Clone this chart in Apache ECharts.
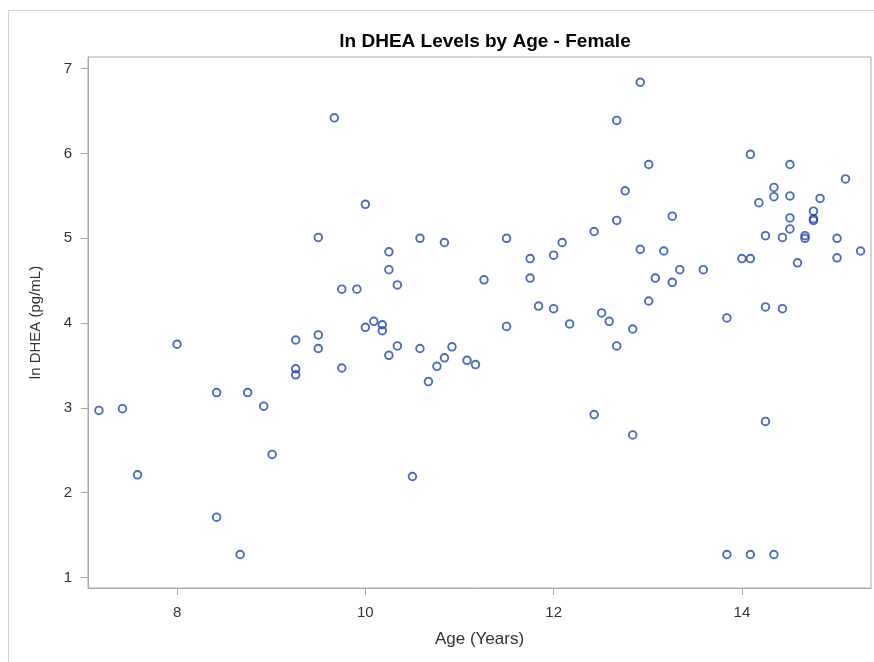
<!DOCTYPE html>
<html>
<head>
<meta charset="utf-8">
<script src="https://cdn.jsdelivr.net/npm/echarts@6/dist/echarts.min.js"></script>
<style>
html,body{margin:0;padding:0;background:#fff;}
#chart{width:874px;height:662px;}
</style>
</head>
<body>
<div id="chart"></div>
<script>
const titleText = "ln DHEA Levels by Age - Female";
const xAxisTitle = "Age (Years)";
const yAxisTitle = "ln DHEA (pg/mL)";
const xTicks = [8, 10, 12, 14];
const yTicks = [1, 2, 3, 4, 5, 6, 7];

const ages = [
  7.17, 7.42, 7.58, 8.00, 8.42, 8.42, 8.67, 8.75, 8.92, 9.01,
  9.26, 9.26, 9.26, 9.50, 9.50, 9.75, 10.00, 10.09, 10.18, 10.18,
  10.25, 10.34, 10.58, 10.50, 10.67, 10.76, 10.84, 10.92, 11.08, 11.17,
  11.50, 11.84, 12.00, 12.17, 12.43, 12.51, 12.59, 12.67, 12.84, 12.84,
  12.92, 12.67, 13.01, 12.76, 12.67, 12.43, 12.09, 12.00, 11.75, 11.75,
  11.50, 11.26, 10.84, 10.58, 10.25, 10.25, 10.34, 12.92, 13.17, 13.08,
  13.01, 9.67, 10.00, 9.50, 9.75, 9.91, 14.09, 14.51, 15.10, 14.34,
  14.34, 14.51, 14.18, 14.83, 14.76, 14.76, 14.76, 14.51, 14.51, 13.26,
  14.25, 14.43, 14.67, 14.67, 15.01, 15.01, 15.26, 14.59, 14.00, 14.09,
  13.34, 13.59, 13.26, 14.25, 14.43, 13.84, 14.25, 13.84, 14.09, 14.34
];
const lnDhea = [
  2.97, 2.99, 2.21, 3.75, 3.18, 1.71, 1.27, 3.18, 3.02, 2.45,
  3.80, 3.46, 3.39, 3.86, 3.70, 3.47, 3.95, 4.02, 3.98, 3.91,
  3.62, 3.73, 3.70, 2.19, 3.31, 3.49, 3.59, 3.72, 3.56, 3.51,
  3.96, 4.20, 4.17, 3.99, 2.92, 4.12, 4.02, 3.73, 3.93, 2.68,
  6.84, 6.39, 5.87, 5.56, 5.21, 5.08, 4.95, 4.80, 4.76, 4.53,
  5.00, 4.51, 4.95, 5.00, 4.84, 4.63, 4.45, 4.87, 4.85, 4.53,
  4.26, 6.42, 5.40, 5.01, 4.40, 4.40, 5.99, 5.87, 5.70, 5.60,
  5.49, 5.50, 5.42, 5.47, 5.32, 5.23, 5.21, 5.24, 5.11, 5.26,
  5.03, 5.01, 5.03, 5.00, 5.00, 4.77, 4.85, 4.71, 4.76, 4.76,
  4.63, 4.63, 4.48, 4.19, 4.17, 4.06, 2.84, 1.27, 1.27, 1.27
];

const points = ages.map((a, i) => [a, lnDhea[i]]);

const chart = echarts.init(document.getElementById('chart'), null, {renderer: 'canvas'});
const axisColor = '#a8a8a8';
const font = '"Liberation Sans", Arial, sans-serif';

chart.setOption({
  animation: false,
  backgroundColor: '#fff',
  title: {
    text: titleText,
    left: 480,
    top: 27,
    textAlign: 'center',
    textStyle: {fontFamily: font, fontSize: 19, fontWeight: 'bold', color: '#000'}
  },
  graphic: [{
    type: 'rect',
    shape: {x: 8.5, y: 10.5, width: 880, height: 680},
    style: {fill: 'none', stroke: '#d4d4d4', lineWidth: 1},
    silent: true
  }],
  grid: {
    left: 88, right: 3, top: 57, bottom: 74,
    show: true, borderColor: axisColor, borderWidth: 1, backgroundColor: 'transparent'
  },
  xAxis: {
    type: 'value',
    min: 7.054, max: 15.371,
    name: xAxisTitle,
    nameLocation: 'middle',
    nameGap: 43,
    nameTextStyle: {fontFamily: font, fontSize: 17, color: '#333'},
    axisLine: {show: true, lineStyle: {color: axisColor}},
    axisTick: {show: true, length: 7, lineStyle: {color: axisColor}, customValues: xTicks},
    axisLabel: {fontFamily: font, fontSize: 15, color: '#333', margin: 17, customValues: xTicks},
    splitLine: {show: false}
  },
  yAxis: {
    type: 'value',
    min: 0.875, max: 7.138,
    name: yAxisTitle,
    nameLocation: 'middle',
    nameGap: 45,
    nameTextStyle: {fontFamily: font, fontSize: 15, color: '#333'},
    axisLine: {show: true, lineStyle: {color: axisColor}},
    axisTick: {show: true, length: 7, lineStyle: {color: axisColor}, customValues: yTicks},
    axisLabel: {fontFamily: font, fontSize: 15, color: '#333', margin: 16, customValues: yTicks},
    splitLine: {show: false}
  },
  series: [{
    type: 'scatter',
    data: points,
    symbol: 'circle',
    symbolSize: 7.6,
    itemStyle: {color: 'rgba(0,0,0,0)', borderColor: '#2146aa', borderWidth: 1.9},
    emphasis: {disabled: true}
  }]
});
</script>
</body>
</html>
